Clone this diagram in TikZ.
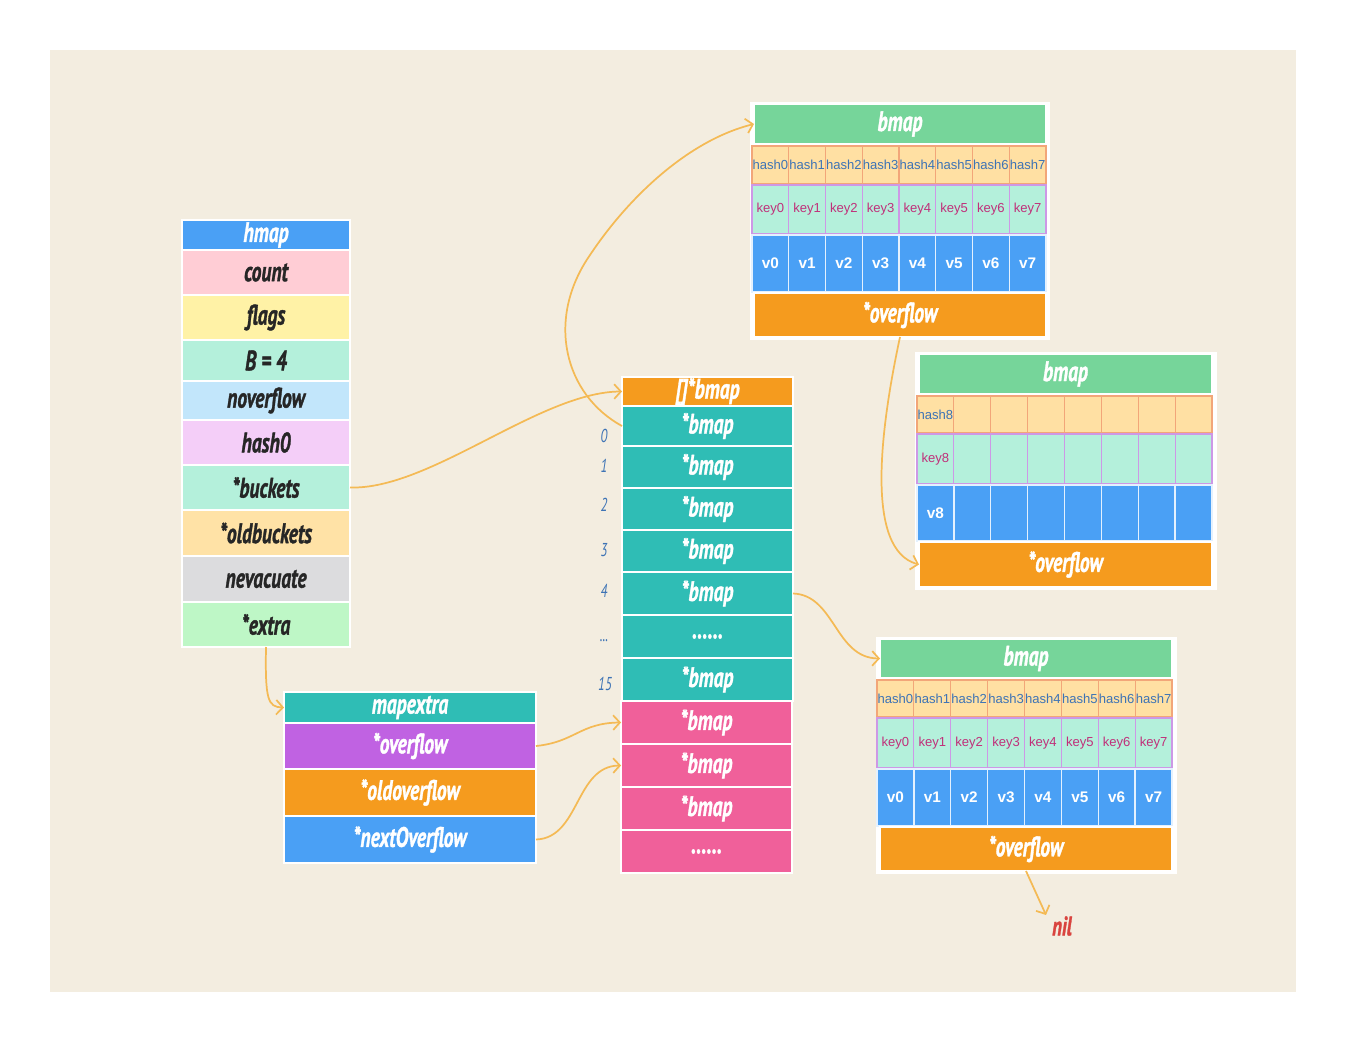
\documentclass[tikz,border=0pt]{standalone}
\usepackage{fontspec}
\usepackage{graphicx}
\setmainfont{Liberation Sans}
\newfontfamily\hfont[BoldItalicFeatures={FakeBold=1.5}]{PT Sans}
\usetikzlibrary{arrows.meta}
\definecolor{bgc}{HTML}{F3EDE0}
\definecolor{cblue}{HTML}{4AA0F5}
\definecolor{cpink}{HTML}{FFCDD5}
\definecolor{cyel}{HTML}{FFF2A6}
\definecolor{cmint}{HTML}{B4F0DB}
\definecolor{clblue}{HTML}{C2E6FB}
\definecolor{clav}{HTML}{F4CEF8}
\definecolor{clor}{HTML}{FFE2A6}
\definecolor{cgrey}{HTML}{DCDCDE}
\definecolor{clgreen}{HTML}{BEF7C6}
\definecolor{cteal}{HTML}{2FBDB5}
\definecolor{cmag}{HTML}{F0609A}
\definecolor{corange}{HTML}{F59B1E}
\definecolor{cpurple}{HTML}{C062E2}
\definecolor{cgreen}{HTML}{76D59A}
\definecolor{hashfill}{HTML}{FFE0A3}
\definecolor{hashline}{HTML}{F2A679}
\definecolor{keyline}{HTML}{CD98E6}
\definecolor{hashtext}{HTML}{3D73B5}
\definecolor{keytext}{HTML}{C0307A}
\definecolor{arrc}{HTML}{F4BA55}
\definecolor{nilc}{HTML}{D9443F}
\newcommand\cond[1]{\scalebox{0.70}[1]{#1}}
\newcommand\bx[7]{\node[box,#6,minimum width={(#4-#2)*0.75pt},minimum height={(#5-#3)*0.75pt}] (#1) at ({(#2+#4)/2},{(#3+#5)/2}) {#7};}
\tikzset{
  box/.style={rectangle,inner sep=0pt,outer sep=0pt,draw=white,line width=1.2pt},
  hdr/.style={font=\hfont\bfseries\itshape\fontsize{21}{23}\selectfont,text=white},
  hrow/.style={font=\hfont\bfseries\itshape\fontsize{21}{23}\selectfont,text=black!85},
  hashc/.style={fill=hashfill,draw=hashline,line width=0.9pt,font=\fontsize{9.8}{10}\selectfont,text=hashtext},
  keyc/.style={fill=cmint,draw=keyline,line width=0.9pt,font=\fontsize{9.8}{10}\selectfont,text=keytext},
  valc/.style={fill=cblue,draw=white!85!cblue,line width=1pt,font=\bfseries\fontsize{11.5}{12}\selectfont,text=white},
  idx/.style={font=\hfont\itshape\fontsize{14}{16}\selectfont,text=hashtext},
  arr/.style={draw=arrc,line width=1.3pt,-{Straight Barb[length=5pt,width=11pt,line width=1.3pt]}},
}
\begin{document}
\begin{tikzpicture}[x=0.75pt,y=-0.75pt]
\useasboundingbox (0,0) rectangle (1345,1041);
\fill[white] (0,0) rectangle (1345,1041);
\fill[bgc] (50,50) rectangle (1296,992);

% hmap
\bx{hm}{182}{220}{350}{250}{hdr,fill=cblue}{\cond{hmap}}
\bx{hcount}{182}{250}{350}{295}{hrow,fill=cpink}{\cond{count}}
\bx{hflags}{182}{295}{350}{340}{hrow,fill=cyel}{\cond{flags}}
\bx{hB}{182}{340}{350}{381}{hrow,fill=cmint}{\cond{B = 4}}
\bx{hnov}{182}{381}{350}{420}{hrow,fill=clblue}{\cond{noverflow}}
\bx{hhash}{182}{420}{350}{465}{hrow,fill=clav}{\cond{hash0}}
\bx{hbuck}{182}{465}{350}{510}{hrow,fill=cmint}{\cond{*buckets}}
\bx{hold}{182}{510}{350}{556}{hrow,fill=clor}{\cond{*oldbuckets}}
\bx{hnev}{182}{556}{350}{602}{hrow,fill=cgrey}{\cond{nevacuate}}
\bx{hext}{182}{602}{350}{647}{hrow,fill=clgreen}{\cond{*extra}}

% mapextra
\bx{mh}{284}{692}{536}{723}{hdr,fill=cteal}{\cond{mapextra}}
\bx{mo}{284}{723}{536}{769}{hdr,fill=cpurple}{\cond{*overflow}}
\bx{mold}{284}{769}{536}{816}{hdr,fill=corange}{\cond{*oldoverflow}}
\bx{mnext}{284}{816}{536}{863}{hdr,fill=cblue}{\cond{*nextOverflow}}

% bucket array
\bx{ah}{622}{377}{793}{406}{hdr,fill=corange}{\cond{[]*bmap}}
\bx{b0}{622}{406}{793}{446}{hdr,fill=cteal}{\cond{*bmap}}
\bx{b1}{622}{446}{793}{488}{hdr,fill=cteal}{\cond{*bmap}}
\bx{b2}{622}{488}{793}{530}{hdr,fill=cteal}{\cond{*bmap}}
\bx{b3}{622}{530}{793}{572}{hdr,fill=cteal}{\cond{*bmap}}
\bx{b4}{622}{572}{793}{615}{hdr,fill=cteal}{\cond{*bmap}}
\bx{bd}{622}{615}{793}{658}{hdr,fill=cteal}{\cond{......}}
\bx{b15}{622}{658}{793}{701}{hdr,fill=cteal}{\cond{*bmap}}
\bx{p1}{621}{701}{792}{744}{hdr,fill=cmag}{\cond{*bmap}}
\bx{p2}{621}{744}{792}{787}{hdr,fill=cmag}{\cond{*bmap}}
\bx{p3}{621}{787}{792}{830}{hdr,fill=cmag}{\cond{*bmap}}
\bx{pd}{621}{830}{792}{873}{hdr,fill=cmag}{\cond{......}}

\node[idx] (i0) at (604,436) {\cond{0}};
\node[idx] (i1) at (604,466) {\cond{1}};
\node[idx] (i2) at (604,505) {\cond{2}};
\node[idx] (i3) at (604,550) {\cond{3}};
\node[idx] (i4) at (604,591) {\cond{4}};
\node[idx] (idots) at (604,641) {\cond{...}};
\node[idx] (i15) at (605,684) {\cond{15}};

% top bmap
\fill[white] (750,102) rectangle (1050,340);
\bx{th}{754}{104}{1046}{144}{hdr,fill=cgreen}{\cond{bmap}}
\foreach \i in {0,...,7}{
  \pgfmathsetmacro\xa{752+\i*36.75}
  \pgfmathsetmacro\xb{\xa+36.75}
  \bx{th\i}{\xa}{146}{\xb}{184}{hashc}{hash\i}
  \bx{tk\i}{\xa}{185}{\xb}{234}{keyc}{key\i}
  \bx{tv\i}{\xa}{235}{\xb}{292}{valc}{v\i}
}
\bx{tov}{754}{293}{1046}{337}{hdr,fill=corange}{\cond{*overflow}}

% middle bmap
\fill[white] (915,352) rectangle (1217,590);
\bx{mbh}{919}{354}{1212}{394}{hdr,fill=cgreen}{\cond{bmap}}
\foreach \i in {0,...,7}{
  \pgfmathsetmacro\xa{917+\i*36.875}
  \pgfmathsetmacro\xb{\xa+36.875}
  \bx{mh\i}{\xa}{396}{\xb}{433}{hashc}{\ifnum\i=0 hash8\fi}
  \bx{mk\i}{\xa}{434}{\xb}{484}{keyc}{\ifnum\i=0 key8\fi}
  \bx{mv\i}{\xa}{485}{\xb}{541}{valc}{\ifnum\i=0 v8\fi}
}
\bx{mov}{919}{542}{1212}{587}{hdr,fill=corange}{\cond{*overflow}}

% bottom bmap
\fill[white] (876,637) rectangle (1177,874);
\bx{bh}{880}{639}{1172}{678}{hdr,fill=cgreen}{\cond{bmap}}
\foreach \i in {0,...,7}{
  \pgfmathsetmacro\xa{877+\i*36.875}
  \pgfmathsetmacro\xb{\xa+36.875}
  \bx{bh\i}{\xa}{680}{\xb}{717}{hashc}{hash\i}
  \bx{bk\i}{\xa}{718}{\xb}{768}{keyc}{key\i}
  \bx{bv\i}{\xa}{769}{\xb}{826}{valc}{v\i}
}
\bx{bov}{880}{827}{1172}{871}{hdr,fill=corange}{\cond{*overflow}}

\node[font=\hfont\bfseries\itshape\fontsize{20}{22}\selectfont,text=nilc] (nil) at (1062,926) {\cond{nil}};
\coordinate (nilin) at (1046,915);

% connectors
\draw[arr] (hbuck.east) .. controls (430,490) and (540,392) .. (ah.west);
\draw[arr] (b0.west) .. controls (565,395) and (545,320) .. (590,255) .. controls (630,195) and (690,140) .. (th.west);
\draw[arr] (tov.south) .. controls (880,430) and (865,550) .. (mov.west);
\draw[arr] (b4.east) .. controls (835,595) and (835,658) .. (bh.west);
\draw[arr] (bov.south) -- (nilin);
\draw[arr] (hext.south) .. controls (265,700) and (268,707) .. (mh.west);
\draw[arr] (mo.east) .. controls (575,742) and (580,723) .. (p1.west);
\draw[arr] (mnext.east) .. controls (580,838) and (575,766) .. (p2.west);
\end{tikzpicture}
\end{document}
